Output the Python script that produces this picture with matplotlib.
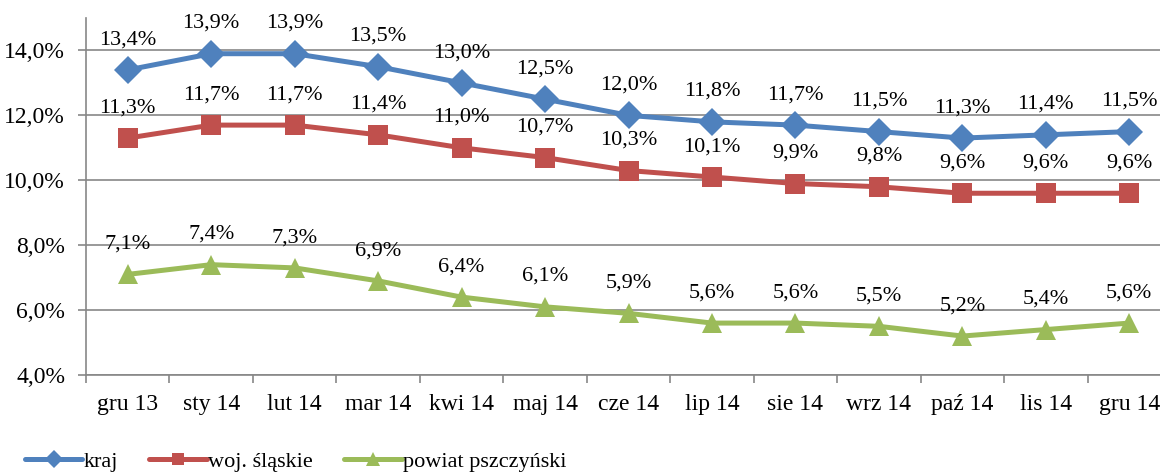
import matplotlib
matplotlib.use("Agg")
import matplotlib.pyplot as plt
from matplotlib.ticker import FixedLocator, FuncFormatter

# ─── Data ─────────────────────────────────────────────────────────────
months = ["gru 13", "sty 14", "lut 14", "mar 14", "kwi 14", "maj 14", "cze 14",
          "lip 14", "sie 14", "wrz 14", "paź 14", "lis 14", "gru 14"]
kraj = [13.4, 13.9, 13.9, 13.5, 13.0, 12.5, 12.0, 11.8, 11.7, 11.5, 11.3, 11.4, 11.5]
slaskie = [11.3, 11.7, 11.7, 11.4, 11.0, 10.7, 10.3, 10.1, 9.9, 9.8, 9.6, 9.6, 9.6]
pszczynski = [7.1, 7.4, 7.3, 6.9, 6.4, 6.1, 5.9, 5.6, 5.6, 5.5, 5.2, 5.4, 5.6]
series_names = ["kraj", "woj. śląskie", "powiat pszczyński"]
y_ticks = [4, 6, 8, 10, 12, 14]

# ─── Style ────────────────────────────────────────────────────────────
plt.rcParams["font.family"] = ["Liberation Serif", "DejaVu Serif"]
FS_LABEL = 16
FS_TICK = 17
FS_LEG = 16
COLORS = ["#4F81BD", "#C0504D", "#9BBB59"]
MARKERS = ["D", "s", "^"]
MSIZES = [14, 14, 15]
GRID = "#878787"

fig = plt.figure(figsize=(11.6, 4.73), dpi=100)
ax = fig.add_axes([86 / 1160, (473 - 375) / 473, 1085 / 1160, 357 / 473])

x = list(range(len(months)))
handles = []
for vals, name, c, m, ms in zip([kraj, slaskie, pszczynski], series_names,
                                COLORS, MARKERS, MSIZES):
    h, = ax.plot(x, vals, color=c, lw=3.6, marker=m, markersize=ms,
                 markeredgewidth=0, label=name, solid_capstyle="round", zorder=3)
    handles.append(h)
    for xi, v in zip(x, vals):
        ax.annotate(f"{v:.1f}%".replace(".", ","), (xi, v), xytext=(0, 15),
                    textcoords="offset points", ha="center", va="bottom",
                    fontsize=FS_LABEL, color="black", zorder=4)

ax.set_xlim(-0.5, len(months) - 0.5)
ax.set_ylim(4, 15)
ax.yaxis.set_major_locator(FixedLocator(y_ticks))
ax.yaxis.set_major_formatter(FuncFormatter(lambda v, p: f"{v:.1f}%".replace(".", ",")))
ax.grid(axis="y", color=GRID, lw=1.2, zorder=0)

ax.set_xticks(x)
ax.set_xticklabels(months)
ax.set_xticks([i - 0.5 for i in range(len(months) + 1)], minor=True)
ax.tick_params(axis="x", which="major", length=0, pad=14, labelsize=FS_TICK)
ax.tick_params(axis="x", which="minor", length=6, width=1.2, color=GRID)
ax.tick_params(axis="y", length=6, width=1.2, color=GRID, labelsize=FS_TICK, pad=9)

for side in ["top", "right"]:
    ax.spines[side].set_visible(False)
for side in ["left", "bottom"]:
    ax.spines[side].set_color(GRID)
    ax.spines[side].set_linewidth(1.2)

fig.legend(handles=handles, loc="lower left", bbox_to_anchor=(0.004, -0.04),
           ncol=3, frameon=False, fontsize=FS_LEG, handlelength=2.6,
           handletextpad=0.05, columnspacing=1.4, markerscale=0.65)

fig.savefig("out.png", dpi=100)
